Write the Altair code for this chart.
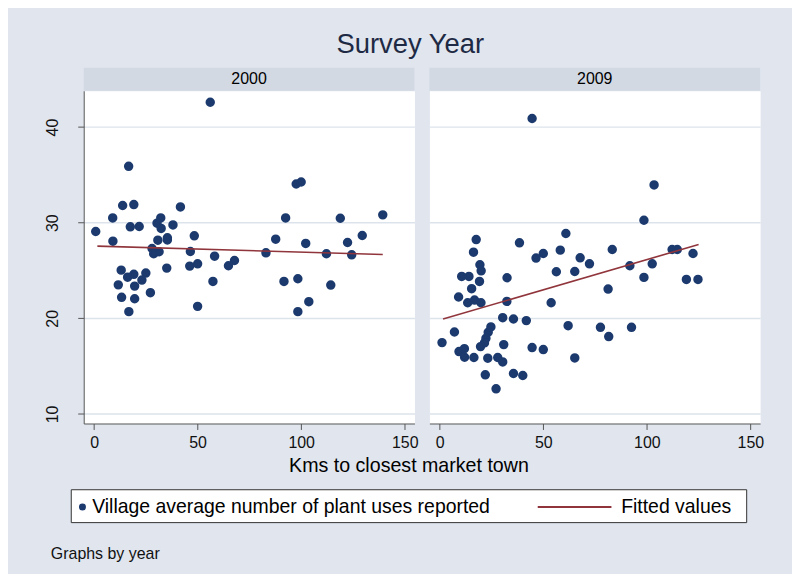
import altair as alt
import pandas as pd

# ---------------- data ----------------
years = ["2000", "2009"]

km_2000 = [0.8, 56.1, 16.7, 13.8, 19.2, 41.7, 9.0, 32.2, 30.4, 32.4,
           17.5, 21.8, 38.1, 9.1, 30.8, 35.4, 35.4, 48.4, 28.0, 29.3,
           31.4, 28.8, 46.5, 58.2, 67.8, 64.9, 46.2, 50.0, 35.1, 13.1,
           19.2, 16.2, 25.0, 11.7, 19.6, 23.1, 27.2, 13.3, 19.6, 16.8,
           50.0, 57.4, 83.0, 87.7, 92.5, 97.6, 100.0, 102.2, 91.7, 98.4,
           98.4, 103.7, 112.2, 118.9, 122.4, 124.4, 129.5, 114.3, 139.4]
uses_2000 = [29.08, 42.6, 35.9, 31.8, 31.9, 31.65, 30.5, 30.5, 29.95, 29.4,
             29.57, 29.6, 29.77, 28.07, 28.17, 28.42, 28.2, 28.63, 27.3, 26.9,
             26.96, 26.75, 26.99, 26.5, 26.05, 25.5, 25.46, 25.7, 25.25, 25.04,
             24.6, 24.3, 24.73, 23.5, 23.37, 24.0, 22.68, 22.2, 22.05, 20.7,
             21.25, 23.86, 26.85, 28.28, 30.5, 34.05, 34.26, 27.83, 23.86, 24.14,
             20.7, 21.74, 26.75, 30.47, 27.93, 26.64, 28.66, 23.48, 30.82]

km_2009 = [44.6, 103.5, 98.6, 60.9, 17.6, 38.5, 16.3, 83.3, 58.2, 50.0,
           46.5, 67.8, 72.3, 19.4, 20.0, 112.2, 114.7, 122.3, 91.8, 102.6,
           56.3, 65.2, 10.6, 14.1, 32.5, 19.2, 98.6, 119.1, 124.7, 15.4,
           81.3, 9.1, 13.5, 16.8, 19.9, 32.4, 53.8, 30.4, 35.6, 41.8,
           62.0, 77.6, 92.6, 7.1, 81.6, 24.7, 23.4, 22.3, 21.6, 19.7,
           1.1, 30.9, 9.3, 11.9, 12.0, 16.5, 23.2, 28.0, 30.4, 44.6,
           50.0, 65.2, 22.0, 35.6, 40.1, 27.2]
uses_2009 = [40.9, 33.95, 30.26, 28.87, 28.24, 27.9, 26.92, 27.2, 27.13, 26.78,
             26.3, 26.33, 25.7, 25.6, 24.97, 27.2, 27.2, 26.78, 25.5, 25.7,
             24.87, 24.9, 24.38, 24.38, 24.24, 23.86, 24.28, 24.07, 24.07, 23.1,
             23.06, 22.23, 21.63, 21.91, 21.63, 21.77, 21.63, 20.07, 19.93, 19.76,
             19.23, 19.06, 19.06, 18.57, 18.09, 19.1, 18.54, 17.91, 17.43, 17.04,
             17.46, 17.25, 16.52, 16.83, 15.93, 15.9, 15.83, 15.9, 15.44, 16.94,
             16.73, 15.86, 14.09, 14.23, 14.02, 12.63]

# fitted values (line ends)
fit_km_2000 = [1.6, 139.4]
fit_val_2000 = [27.55, 26.68]
fit_km_2009 = [1.6, 125.0]
fit_val_2009 = [19.93, 27.72]

series_labels = ["Village average number of plant uses reported", "Fitted values"]
x_ticks = [0, 50, 100, 150]
y_ticks = [10, 20, 30, 40]
x_title = "Kms to closest market town"
chart_title = "Survey Year"
note = "Graphs by year"

# ---------------- styling ----------------
NAVY = "#1c3a6e"
MAROON = "#90353b"
BG = "#e0e5ee"
STRIP = "#d3d9e3"
GRID = "#dde3eb"
FONT = "Liberation Sans"
W, H = 332, 334
# symbol paths: a unit circle and a line to the left; the invisible moves only
# give both legend entries the same (taller / wider) box
DOT_SYMBOL = "M-1,0A1,1,0,1,0,1,0A1,1,0,1,0,-1,0M0,-4M0,3.6"
LINE_SYMBOL = "M-29.6,0L0,0M51.5,-4M51.5,3.6"

xscale = alt.Scale(domain=[-5, 154.7], nice=False, zero=False)
yscale = alt.Scale(domain=[9.0, 43.8], nice=False, zero=False)


def panel(year, xs, ys, fx, fy, first):
    df = pd.DataFrame({"km": xs, "uses": ys, "series": series_labels[0]})
    fdf = pd.DataFrame({"km": fx, "uses": fy})
    base = alt.Chart(df)

    if first:
        xaxis = alt.Axis(values=x_ticks, grid=False, title=x_title, titleX=326,
                         titleFontSize=19.7, titleFontWeight="normal", titleColor="black",
                         titlePadding=5, tickSize=6, labelPadding=5)
        yaxis = alt.Axis(values=y_ticks, grid=True, gridColor=GRID, gridWidth=1.5,
                         labelAngle=270, labelAlign="center", labelBaseline="bottom",
                         labelPadding=17, tickSize=6, title=None)
    else:
        xaxis = alt.Axis(values=x_ticks, grid=False, title=None, tickSize=6, labelPadding=5)
        yaxis = alt.Axis(values=y_ticks, grid=True, gridColor=GRID, gridWidth=1.5,
                         labels=False, ticks=False, domain=False, title=None)

    enc = dict(x=alt.X("km:Q", scale=xscale, axis=xaxis),
               y=alt.Y("uses:Q", scale=yscale, axis=yaxis))

    if first:
        leg = alt.Legend(title=" ", titleFontSize=4, titlePadding=2, titleOrient="top",
                         orient="none", legendX=-13, legendY=400,
                         direction="horizontal", columns=2, columnPadding=42,
                         labelFontSize=19.5, labelColor="black", labelFont=FONT,
                         labelOffset=0, labelLimit=700, symbolSize=25,
                         symbolStrokeWidth=2, fillColor="white",
                         strokeColor="#333333", padding=2)
        cscale = alt.Scale(domain=series_labels, range=[NAVY, MAROON])
        pts = base.mark_point(filled=True, size=56, strokeWidth=2, opacity=1).encode(
            **enc,
            fill=alt.Fill("series:N", scale=cscale, legend=leg),
            stroke=alt.Stroke("series:N", scale=cscale, legend=leg),
            shape=alt.Shape("series:N",
                            scale=alt.Scale(domain=series_labels,
                                            range=[DOT_SYMBOL, LINE_SYMBOL]),
                            legend=leg),
        )
    else:
        pts = base.mark_point(filled=True, size=56, strokeWidth=2, opacity=1,
                              fill=NAVY, stroke=NAVY, shape="circle").encode(**enc)

    fit = alt.Chart(fdf).mark_line(color=MAROON, strokeWidth=1.6).encode(
        x=alt.X("km:Q", scale=xscale), y=alt.Y("uses:Q", scale=yscale))

    sdf = pd.DataFrame({"year": [year]})
    strip = alt.Chart(sdf).mark_rect(fill=STRIP).encode(
        x=alt.value(0), x2=alt.value(W), y=alt.value(-23), y2=alt.value(0))
    stext = alt.Chart(sdf).mark_text(fontSize=16, color="black", baseline="middle",
                                     font=FONT).encode(
        x=alt.value(W / 2), y=alt.value(-11.5), text="year:N")

    layers = [strip, stext, pts, fit]
    if first:
        ndf = pd.DataFrame({"note": [note]})
        layers.append(alt.Chart(ndf).mark_text(align="left", baseline="middle",
                                               fontSize=16, color="#111111",
                                               font=FONT).encode(
            x=alt.value(-33), y=alt.value(465), text="note:N"))
    return alt.layer(*layers).properties(width=W, height=H)


left = panel(years[0], km_2000, uses_2000, fit_km_2000, fit_val_2000, True)
right = panel(years[1], km_2009, uses_2009, fit_km_2009, fit_val_2009, False)

chart = alt.hconcat(left, right, spacing=15, bounds="flush").resolve_legend(
    fill="independent", stroke="independent", shape="independent"
).properties(
    title=alt.TitleParams(chart_title, fontSize=27.5, fontWeight="normal",
                          color="#1e2a44", anchor="middle", frame="bounds",
                          offset=9, dx=6, font=FONT),
    padding={"left": 36, "top": 22, "right": 27, "bottom": 10},
).configure(
    background=BG, font=FONT
).configure_view(
    stroke="transparent", fill="white"
).configure_axis(
    domainColor="#555555", tickColor="#555555", labelFontSize=16,
    labelColor="#111111", labelFont=FONT, titleFont=FONT
)

chart.save("out.html", embed_options={"renderer": "svg", "actions": False})
